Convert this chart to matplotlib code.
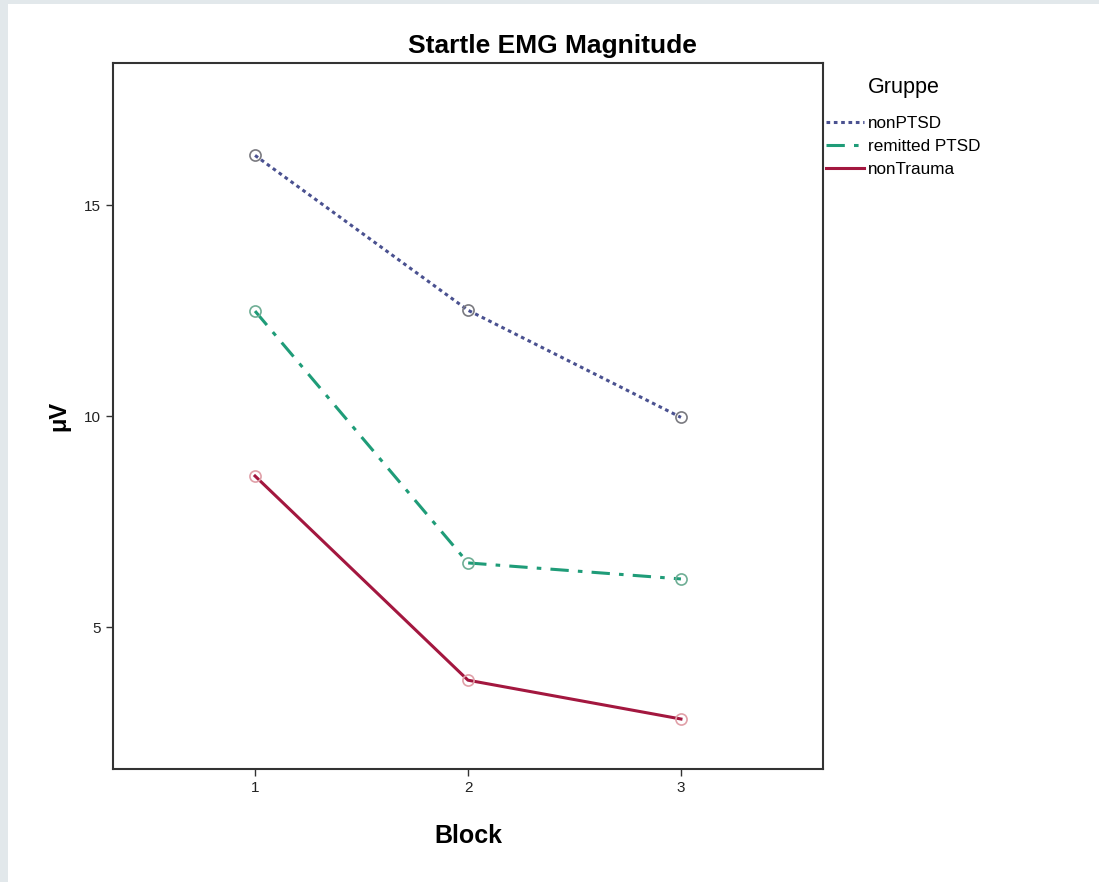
import matplotlib
matplotlib.use("Agg")
import matplotlib.pyplot as plt
from matplotlib.patches import Rectangle

plt.rcParams['font.family'] = ['Liberation Sans', 'DejaVu Sans']

# 데이터
blocks = [1, 2, 3]
groups = ["nonPTSD", "remitted PTSD", "nonTrauma"]
non_ptsd = [16.18, 12.51, 9.97]
remitted_ptsd = [12.49, 6.52, 6.14]
non_trauma = [8.58, 3.74, 2.82]
y_ticks = [5, 10, 15]

fig = plt.figure(figsize=(10.99, 8.82), dpi=100, facecolor='#e2e8eb')
fig.patches.append(Rectangle((8/1099, 0), 1 - 8/1099, 1 - 4/882, transform=fig.transFigure,
                             facecolor='white', edgecolor='none', zorder=-5))

ax = fig.add_axes([113/1099, 1 - 769/882, 710/1099, 706/882])
ax.set_facecolor('white')

styles = [
    (non_ptsd, '#4a5190', (0, (1.2, 1.2)), '#7a7a80'),
    (remitted_ptsd, '#1f9c78', (0, (6, 3, 1.5, 3)), '#6fae95'),
    (non_trauma, '#a3173f', '-', '#e0a0a8'),
]
for name, (vals, col, ls, mcol) in zip(groups, styles):
    ax.plot(blocks, vals, color=col, linestyle=ls, linewidth=2.2, label=name, zorder=2)
    ax.plot(blocks, vals, linestyle='none', marker='o', markersize=8, markerfacecolor='none',
            markeredgecolor=mcol, markeredgewidth=1.2, zorder=3)

ax.set_xlim(0.333, 3.667)
ax.set_ylim(1.635, 18.37)
ax.set_xticks(blocks)
ax.set_yticks(y_ticks)
ax.tick_params(direction='out', length=5, width=1, labelsize=11, color='#333333', labelcolor='#222222')
for s in ax.spines.values():
    s.set_linewidth(1.5)
    s.set_color('#333333')

# 제목은 그림 전체 기준으로 가운데
fig.text(552/1099, 1 - 46/882, "Startle EMG Magnitude", fontsize=19, fontweight='bold',
         ha='center', va='center')
ax.set_xlabel("Block", fontsize=18, fontweight='bold', labelpad=21)
ax.set_ylabel("μV", fontsize=17, fontweight='bold', labelpad=10)

leg = ax.legend(loc='upper left', bbox_to_anchor=(823/1099, 1 - 74/882), bbox_transform=fig.transFigure,
                frameon=False, title="Gruppe", fontsize=12.3, title_fontsize=15.5,
                handlelength=2.2, handletextpad=0.25, labelspacing=0.45, borderaxespad=0,
                borderpad=0.2)
leg._legend_box.align = "center"
leg._legend_box.sep = 13

fig.savefig("out.png", dpi=100, facecolor=fig.get_facecolor())
